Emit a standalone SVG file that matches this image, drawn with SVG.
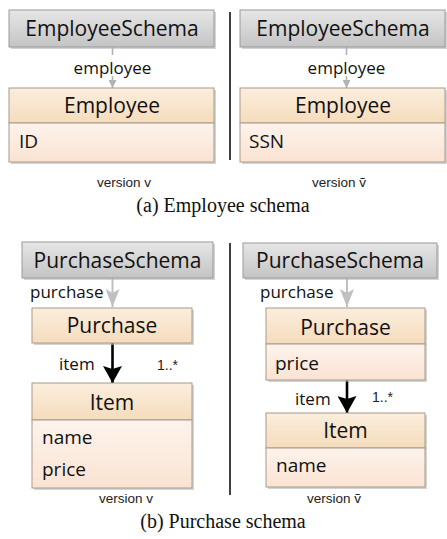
<svg xmlns="http://www.w3.org/2000/svg" width="447" height="539" viewBox="0 0 447 539">
<defs>
<linearGradient id="gSchema" x1="0" y1="0" x2="0" y2="1"><stop offset="0" stop-color="#e6e6e6"/><stop offset="1" stop-color="#c4c4c4"/></linearGradient>
<linearGradient id="gHead" x1="0" y1="0" x2="0" y2="1"><stop offset="0" stop-color="#fbeedd"/><stop offset="1" stop-color="#f5dcbc"/></linearGradient>
<linearGradient id="gBody" x1="0" y1="0" x2="0" y2="1"><stop offset="0" stop-color="#fdf3ec"/><stop offset="1" stop-color="#fae3d2"/></linearGradient>
<marker id="mGraySmall" markerWidth="8" markerHeight="8" viewBox="0 0 8 8" refX="8" refY="4" orient="auto" markerUnits="userSpaceOnUse"><path d="M0,0 L8,4 L0,8 Z" fill="#b3b3b3"/></marker>
<marker id="mGray" markerWidth="18" markerHeight="14" viewBox="0 0 18 14" refX="18" refY="7" orient="auto" markerUnits="userSpaceOnUse"><path d="M0,0 L18,7 L0,14 L4,7 Z" fill="#c0c0c0"/></marker>
<marker id="mBlack" markerWidth="17" markerHeight="19" viewBox="0 0 17 19" refX="17" refY="9.5" orient="auto" markerUnits="userSpaceOnUse"><path d="M0,0 L17,9.5 L0,19 L3,9.5 Z" fill="#000"/></marker>
</defs>
<style>
.shadow{fill:#b8b8b8;opacity:0.6}
.schema{fill:url(#gSchema);stroke:#9a9a9a;stroke-width:1}
.head{fill:url(#gHead);stroke:#a89a8c;stroke-width:1}
.body{fill:url(#gBody);stroke:#a89a8c;stroke-width:1}
.t{font-family:"Open Sans","Noto Sans",sans-serif;fill:#111}
.big{font-size:21px;text-anchor:middle}
.attr{font-size:19px}
.lbl{font-size:17px}
.ver{font-family:"Liberation Sans",Arial,sans-serif;font-size:13.5px;fill:#222;text-anchor:middle}
.mult{font-family:"Liberation Sans",Arial,sans-serif;font-size:14px;fill:#222}
.cap{font-family:"Liberation Serif","Times New Roman",serif;font-size:20px;fill:#111;text-anchor:middle}
.div{stroke:#111;stroke-width:1.6}
</style>
<g id="connectors">
<line x1="112.5" y1="47" x2="112.5" y2="88" stroke="#b3b3b3" stroke-width="1.6" marker-end="url(#mGraySmall)"/>
<line x1="346.5" y1="47" x2="346.5" y2="88" stroke="#b3b3b3" stroke-width="1.6" marker-end="url(#mGraySmall)"/>
<line x1="112.5" y1="278" x2="112.5" y2="307" stroke="#c0c0c0" stroke-width="2" marker-end="url(#mGray)"/>
<line x1="347" y1="278" x2="347" y2="307" stroke="#c0c0c0" stroke-width="2" marker-end="url(#mGray)"/>
<line x1="112.5" y1="343" x2="112.5" y2="383" stroke="#000" stroke-width="2.6" marker-end="url(#mBlack)"/>
<line x1="347" y1="380" x2="347" y2="413" stroke="#000" stroke-width="2.6" marker-end="url(#mBlack)"/>
<rect x="70" y="55" width="85" height="21" fill="#fff"/>
<rect x="304" y="55" width="85" height="21" fill="#fff"/>
<text class="t lbl" x="112.5" y="74" text-anchor="middle">employee</text>
<text class="t lbl" x="346.5" y="74" text-anchor="middle">employee</text>
<text class="t lbl" x="30" y="298">purchase</text>
<text class="t lbl" x="260" y="298">purchase</text>
<text class="t lbl" x="59" y="370">item</text>
<text class="mult" x="157" y="370">1..*</text>
<text class="t lbl" x="295" y="405">item</text>
<text class="mult" x="372" y="402">1..*</text>
</g>
<g id="EmployeeSchema_v">
<rect class="shadow" x="11" y="12" width="205" height="37"/>
<rect class="schema" x="9" y="10" width="205" height="37"/>
<text class="t big" x="112" y="36">EmployeeSchema</text>
</g>
<g id="Employee_v">
<rect class="shadow" x="11" y="90" width="205" height="74"/>
<rect class="head" x="9" y="88" width="205" height="35"/>
<rect class="body" x="9" y="123" width="205" height="39"/>
<text class="t big" x="112" y="113">Employee</text>
<text class="t attr" x="19" y="148">ID</text>
</g>
<g id="EmployeeSchema_vt">
<rect class="shadow" x="242" y="12" width="205" height="37"/>
<rect class="schema" x="240" y="10" width="205" height="37"/>
<text class="t big" x="343" y="36">EmployeeSchema</text>
</g>
<g id="Employee_vt">
<rect class="shadow" x="242" y="90" width="205" height="74"/>
<rect class="head" x="240" y="88" width="205" height="35"/>
<rect class="body" x="240" y="123" width="205" height="39"/>
<text class="t big" x="343" y="113">Employee</text>
<text class="t attr" x="249" y="148">SSN</text>
</g>
<line class="div" x1="230" y1="12" x2="230" y2="160"/>
<text class="ver" x="124" y="187">version v</text>
<text class="ver" x="339" y="187">version ṽ</text>
<text class="cap" x="223" y="212">(a) Employee schema</text>
<g id="PurchaseSchema_v">
<rect class="shadow" x="24" y="244" width="191" height="36"/>
<rect class="schema" x="22" y="242" width="191" height="36"/>
<text class="t big" x="117.5" y="268">PurchaseSchema</text>
</g>
<g id="Purchase_v">
<rect class="shadow" x="34" y="310" width="160" height="35"/>
<rect class="head" x="32" y="308" width="160" height="35"/>
<text class="t big" x="112" y="333">Purchase</text>
</g>
<g id="Item_v">
<rect class="shadow" x="34" y="385" width="160" height="105"/>
<rect class="head" x="32" y="383" width="160" height="37"/>
<rect class="body" x="32" y="420" width="160" height="68"/>
<text class="t big" x="112" y="410">Item</text>
<text class="t attr" x="42" y="444">name</text>
<text class="t attr" x="42" y="476">price</text>
</g>
<g id="PurchaseSchema_vt">
<rect class="shadow" x="245" y="245" width="194" height="35"/>
<rect class="schema" x="243" y="243" width="194" height="35"/>
<text class="t big" x="340" y="268">PurchaseSchema</text>
</g>
<g id="Purchase_vt">
<rect class="shadow" x="268" y="310" width="159" height="72"/>
<rect class="head" x="266" y="308" width="159" height="36"/>
<rect class="body" x="266" y="344" width="159" height="36"/>
<text class="t big" x="345.5" y="335">Purchase</text>
<text class="t attr" x="275" y="370">price</text>
</g>
<g id="Item_vt">
<rect class="shadow" x="268" y="415" width="159" height="74"/>
<rect class="head" x="266" y="413" width="159" height="35"/>
<rect class="body" x="266" y="448" width="159" height="39"/>
<text class="t big" x="345.5" y="438">Item</text>
<text class="t attr" x="276" y="472">name</text>
</g>
<line class="div" x1="230" y1="243" x2="230" y2="495"/>
<text class="ver" x="126" y="503">version v</text>
<text class="ver" x="334" y="503">version ṽ</text>
<text class="cap" x="223" y="528">(b) Purchase schema</text>
</svg>
